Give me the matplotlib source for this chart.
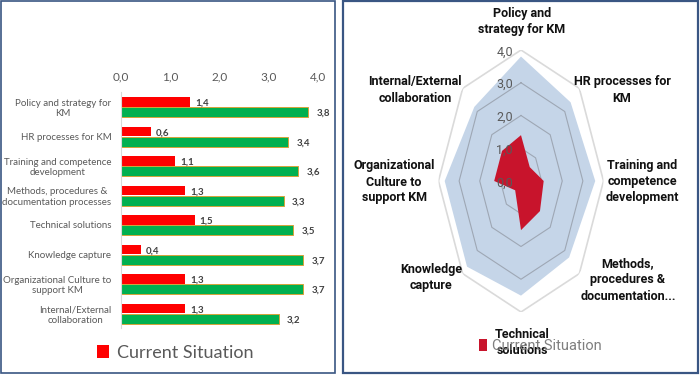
import matplotlib
matplotlib.use('Agg')
import matplotlib.pyplot as plt
import numpy as np
from matplotlib.patches import Rectangle

plt.rcParams['font.family'] = ['Lato', 'DejaVu Sans']

categories = ['Policy and strategy for\nKM', 'HR processes for KM',
              'Training and competence\ndevelopment',
              'Methods, procedures &\ndocumentation processes',
              'Technical solutions', 'Knowledge capture',
              'Organizational Culture to\nsupport KM',
              'Internal/External\ncollaboration']
radar_labels = ['Policy and\nstrategy for KM', 'HR processes for\nKM',
                'Training and\ncompetence\ndevelopment',
                'Methods,\nprocedures &\ndocumentation...',
                'Technical\nsolutions', 'Knowledge\ncapture',
                'Organizational\nCulture to\nsupport KM',
                'Internal/External\ncollaboration']
current = [1.4, 0.6, 1.1, 1.3, 1.5, 0.4, 1.3, 1.3]
target = [3.8, 3.4, 3.6, 3.3, 3.5, 3.7, 3.7, 3.2]
x_ticks = [0, 1, 2, 3, 4]


def comma(v):
    return f'{v:.1f}'.replace('.', ',')


W, H = 700, 376
fig = plt.figure(figsize=(7, 3.76), dpi=100)


def px(x, y):
    return x / W, 1 - y / H


# panel frames
frame = '#3A5683'
fig.add_artist(Rectangle(px(1, 373), 333.5 / W, 372 / H, transform=fig.transFigure,
                         fill=False, edgecolor=frame, lw=1.2))
fig.add_artist(Rectangle(px(343, 373), 355 / W, 372 / H, transform=fig.transFigure,
                         fill=False, edgecolor=frame, lw=1.6))

# ---- left: bar chart
ax1 = fig.add_axes([121 / W, 1 - 328.25 / H, 197 / W, 236 / H])
y = np.arange(len(categories))
red_bars = ax1.barh(y - 0.17, current, height=0.32, color='#FF0000')
ax1.barh(y + 0.17, target, height=0.34, color='#00B050', edgecolor='#D4A33A', lw=0.7)
for yi, c, t in zip(y, current, target):
    ax1.text(c + 0.1, yi - 0.12, comma(c), va='center', fontsize=7,
             fontweight='bold', color='#404040')
    ax1.text(t + 0.17, yi + 0.22, comma(t), va='center', fontsize=7,
             fontweight='bold', color='#404040')
ax1.set_xlim(0, 4)
ax1.set_ylim(7.5, -0.5)
ax1.xaxis.tick_top()
ax1.set_xticks(x_ticks)
ax1.set_xticklabels([comma(v) for v in x_ticks])
ax1.set_yticks(y)
ax1.set_yticklabels(categories)
for lab in ax1.get_yticklabels():
    lab.set_multialignment('center')
ax1.tick_params(axis='x', length=0, pad=7, labelsize=8.5, labelcolor='#595959')
ax1.tick_params(axis='y', length=0, pad=7, labelsize=7, labelcolor='#595959')
for s in ['top', 'right', 'bottom']:
    ax1.spines[s].set_visible(False)
ax1.spines['left'].set_color('#D9D9D9')

fig.legend([red_bars], ['Current Situation'], loc='center',
           bbox_to_anchor=px(175, 353), frameon=False, fontsize=13,
           labelcolor='#595959', handlelength=0.7, handleheight=0.7,
           handletextpad=0.4)

# ---- right: radar
ax2 = fig.add_axes([438.5 / W, 1 - 312 / H, 165 / W, 262 / H], projection='polar')
ax2.set_aspect('auto')
ax2.set_theta_zero_location('N')
ax2.set_theta_direction(-1)
theta = np.linspace(0, 2 * np.pi, len(categories), endpoint=False)
tc = np.append(theta, theta[0])
ax2.fill(tc, target + target[:1], color='#C5D5E8', lw=0, zorder=1)
for r in x_ticks[1:]:
    ax2.plot(tc, [r] * len(tc), color='#DADADA' if r == 4 else '#9EA7B4',
             lw=1.2 if r == 4 else 0.8, zorder=2)
radar_red = ax2.fill(tc, current + current[:1], color='#C8142C', lw=0, zorder=3)[0]
ax2.set_ylim(0, 4)
ax2.set_xticks([])
ax2.set_yticks([])
ax2.grid(False)
ax2.spines['polar'].set_visible(False)
ax2.patch.set_visible(False)
narrow = ['Roboto', 'DejaVu Sans']
for r in x_ticks:
    ax2.text(0, r, comma(r), ha='right', va='center', fontsize=9, color='#595959',
             zorder=4, family=narrow,
             transform=ax2.transData + matplotlib.transforms.ScaledTranslation(
                 -8 / 100, -2 / 100, fig.dpi_scale_trans))

label_pos = [(522, 22), (622, 90), (642, 182), (628, 280),
             (522, 343), (431, 278), (394, 182), (415, 90)]
for lab, (lx, ly) in zip(radar_labels, label_pos):
    fig.text(*px(lx, ly), lab, ha='center', va='center', fontsize=9,
             fontweight='bold', color='#111111', linespacing=1.3,
             family=narrow)

fig.legend([radar_red], ['Current Situation'], loc='center',
           bbox_to_anchor=px(540, 346), frameon=False,
           labelcolor='#7F7F7F', handlelength=0.6, handleheight=0.9,
           handletextpad=0.3,
           prop={'family': narrow, 'size': 10.5})

fig.savefig('out.png', dpi=100)
